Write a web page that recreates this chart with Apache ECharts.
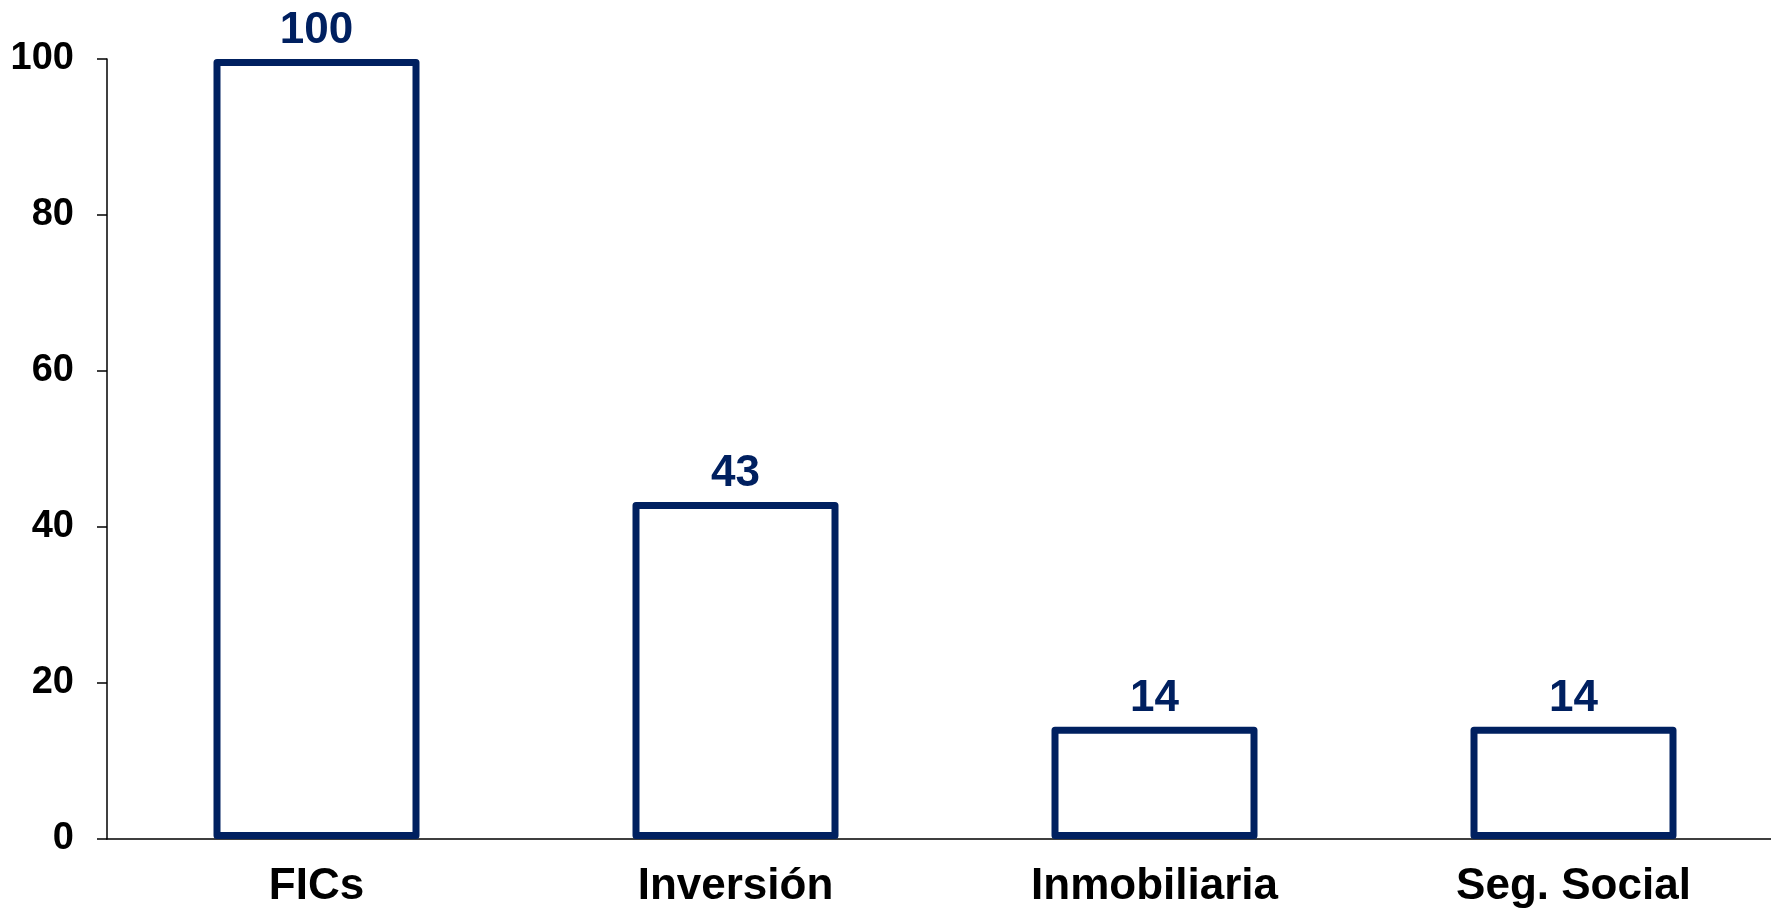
<!DOCTYPE html>
<html>
<head>
<meta charset="utf-8">
<script src="https://cdn.jsdelivr.net/npm/echarts@6/dist/echarts.min.js"></script>
<style>
  html, body { margin: 0; padding: 0; background: #fff; }
  #chart { width: 1771px; height: 912px; }
</style>
</head>
<body>
<div id="chart"></div>
<script>
// categorías y valores
const categories = ["FICs", "Inversión", "Inmobiliaria", "Seg. Social"];
const values = [100, 43.2, 14.4, 14.4];
const yTicks = [0, 20, 40, 60, 80, 100];

const navy = "#002060";
const font = "Liberation Sans, Arial, sans-serif";

const chart = echarts.init(document.getElementById("chart"));
const option = {
  animation: false,
  // el eje x sigue más allá del borde derecho
  grid: { left: 107, width: 1676, top: 59, bottom: 73, outerBoundsMode: "none", containLabel: false },
  xAxis: {
    type: "category",
    data: categories,
    axisLine: { lineStyle: { color: "#000", width: 1.5 } },
    axisTick: { show: false },
    axisLabel: {
      color: "#000",
      fontFamily: font,
      fontWeight: "bold",
      fontSize: 44,
      margin: 26
    }
  },
  yAxis: {
    type: "value",
    min: yTicks[0],
    max: yTicks[yTicks.length - 1],
    interval: 20,
    splitLine: { show: false },
    axisLine: { show: true, lineStyle: { color: "#000", width: 1.5 } },
    axisTick: { show: true, length: 10, lineStyle: { color: "#000", width: 1.5 } },
    axisLabel: {
      color: "#000",
      fontFamily: font,
      fontWeight: "bold",
      fontSize: 38,
      margin: 33
    }
  },
  series: [
    {
      type: "bar",
      data: values,
      barWidth: 206,
      itemStyle: {
        color: "#fff",
        borderColor: navy,
        borderWidth: 7,
        borderJoin: "round"
      },
      label: {
        show: true,
        position: "top",
        distance: 6,
        color: navy,
        fontFamily: font,
        fontWeight: "bold",
        fontSize: 44,
        formatter: (p) => Math.round(p.value)
      }
    }
  ]
};
chart.setOption(option);
</script>
</body>
</html>
